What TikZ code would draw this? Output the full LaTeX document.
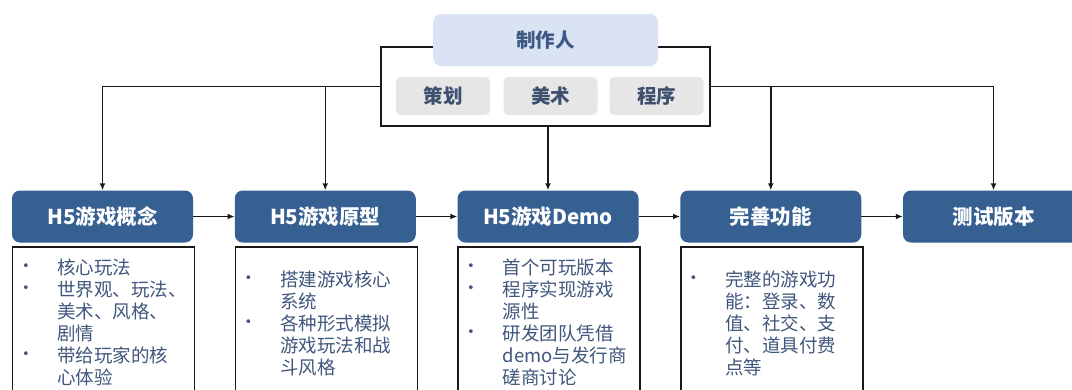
\documentclass[tikz,border=0pt]{standalone}
\usepackage{fontspec}
\setmainfont{Noto Sans CJK SC}
\newfontfamily\bulfont{DejaVu Sans}
\usetikzlibrary{arrows.meta}
\definecolor{mainblue}{RGB}{55,96,146}
\definecolor{headfill}{RGB}{218,227,243}
\definecolor{headtext}{RGB}{60,88,132}
\definecolor{subfill}{RGB}{231,230,230}
\definecolor{subtext}{RGB}{62,80,112}
\definecolor{dettext}{RGB}{64,86,124}
\definecolor{linecol}{RGB}{25,25,25}
\tikzset{
  mainbox/.style={fill=mainblue, rounded corners=8pt, minimum width=181pt, minimum height=52pt, inner sep=0pt, text=white, font=\bfseries\fontsize{20.5}{23}\selectfont},
  headbox/.style={fill=headfill, rounded corners=8pt, minimum width=225pt, minimum height=52pt, inner sep=0pt, text=headtext, font=\bfseries\fontsize{19.5}{22}\selectfont},
  subbox/.style={fill=subfill, rounded corners=5pt, minimum width=94pt, minimum height=38pt, inner sep=0pt, text=subtext, font=\bfseries\fontsize{19.5}{22}\selectfont},
  grpbox/.style={draw=linecol, line width=1.5pt, minimum width=329pt, minimum height=79pt, inner sep=0pt},
  detbox/.style={draw=linecol, line width=1.5pt, minimum width=182pt, minimum height=170pt, inner sep=0pt, anchor=north},
  conn/.style={draw=linecol, line width=1.5pt, -{Latex[length=7pt,width=6pt]}},
  detline/.style={anchor=base west, inner sep=0pt, text=dettext, font=\fontsize{18.5}{21}\selectfont},
  bul/.style={anchor=center, inner sep=0pt, text=dettext, font=\bulfont\fontsize{13}{14}\selectfont}
}
\begin{document}
\begin{tikzpicture}[x=1pt,y=-1pt]
\clip (0,0) rectangle (1072,389);
% group enclosure and producer
\node[grpbox] (grp) at (545.5,86.5) {};
\node[headbox] (head) at (545.5,40) {制作人};
\node[subbox] (s1) at (443,96) {策划};
\node[subbox] (s2) at (550.5,96) {美术};
\node[subbox] (s3) at (656.5,96) {程序};
% main stage boxes
\node[mainbox] (b1) at (102.5,216.5) {H5游戏概念};
\node[mainbox] (b2) at (325.25,216.5) {H5游戏原型};
\node[mainbox] (b3) at (548,216.5) {H5游戏Demo};
\node[mainbox] (b4) at (770.75,216.5) {完善功能};
\node[mainbox] (b5) at (993.5,216.5) {测试版本};
% detail boxes
\node[detbox] (d1) at (103.5,246) {};
\node[detbox] (d2) at (326.25,246) {};
\node[detbox] (d3) at (549,246) {};
\node[detbox] (d4) at (771.75,246) {};
% connectors
\draw[conn] (grp.west) -| (b1.north);
\draw[conn] (grp.west -| b2.north) -- (b2.north);
\draw[conn] (grp.south -| b3.north) -- (b3.north);
\draw[conn] (grp.east -| b4.north) -- (b4.north);
\draw[conn] (grp.east) -| (b5.north);
\draw[conn] (b1) -- (b2);
\draw[conn] (b2) -- (b3);
\draw[conn] (b3) -- (b4);
\draw[conn] (b4) -- (b5);
% details box 1
\node[bul] (u11) at (26,267.5) {•};
\node[bul] (u12) at (26,289.4) {•};
\node[bul] (u13) at (26,355.1) {•};
\node[detline] (t11) at (57,274.5) {核心玩法};
\node[detline] (t12) at (57,296.4) {世界观、玩法、};
\node[detline] (t13) at (57,318.3) {美术、风格、};
\node[detline] (t14) at (57,340.2) {剧情};
\node[detline] (t15) at (57,362.1) {带给玩家的核};
\node[detline] (t16) at (57,384) {心体验};
% details box 2
\node[bul] (u21) at (248.5,279.5) {•};
\node[bul] (u22) at (248.5,323.3) {•};
\node[detline] (t21) at (280,286.5) {搭建游戏核心};
\node[detline] (t22) at (280,308.4) {系统};
\node[detline] (t23) at (280,330.3) {各种形式模拟};
\node[detline] (t24) at (280,352.2) {游戏玩法和战};
\node[detline] (t25) at (280,374.1) {斗风格};
% details box 3
\node[bul] (u31) at (471,267.5) {•};
\node[bul] (u32) at (471,289.4) {•};
\node[bul] (u33) at (471,333.2) {•};
\node[detline] (t31) at (502.5,274.5) {首个可玩版本};
\node[detline] (t32) at (502.5,296.4) {程序实现游戏};
\node[detline] (t33) at (502.5,318.3) {源性};
\node[detline] (t34) at (502.5,340.2) {研发团队凭借};
\node[detline] (t35) at (502.5,362.1) {demo与发行商};
\node[detline] (t36) at (502.5,384) {磋商讨论};
% details box 4
\node[bul] (u41) at (693.5,279.5) {•};
\node[detline] (t41) at (725,286.5) {完整的游戏功};
\node[detline] (t42) at (725,308.4) {能：登录、数};
\node[detline] (t43) at (725,330.3) {值、社交、支};
\node[detline] (t44) at (725,352.2) {付、道具付费};
\node[detline] (t45) at (725,374.1) {点等};
\end{tikzpicture}
\end{document}
